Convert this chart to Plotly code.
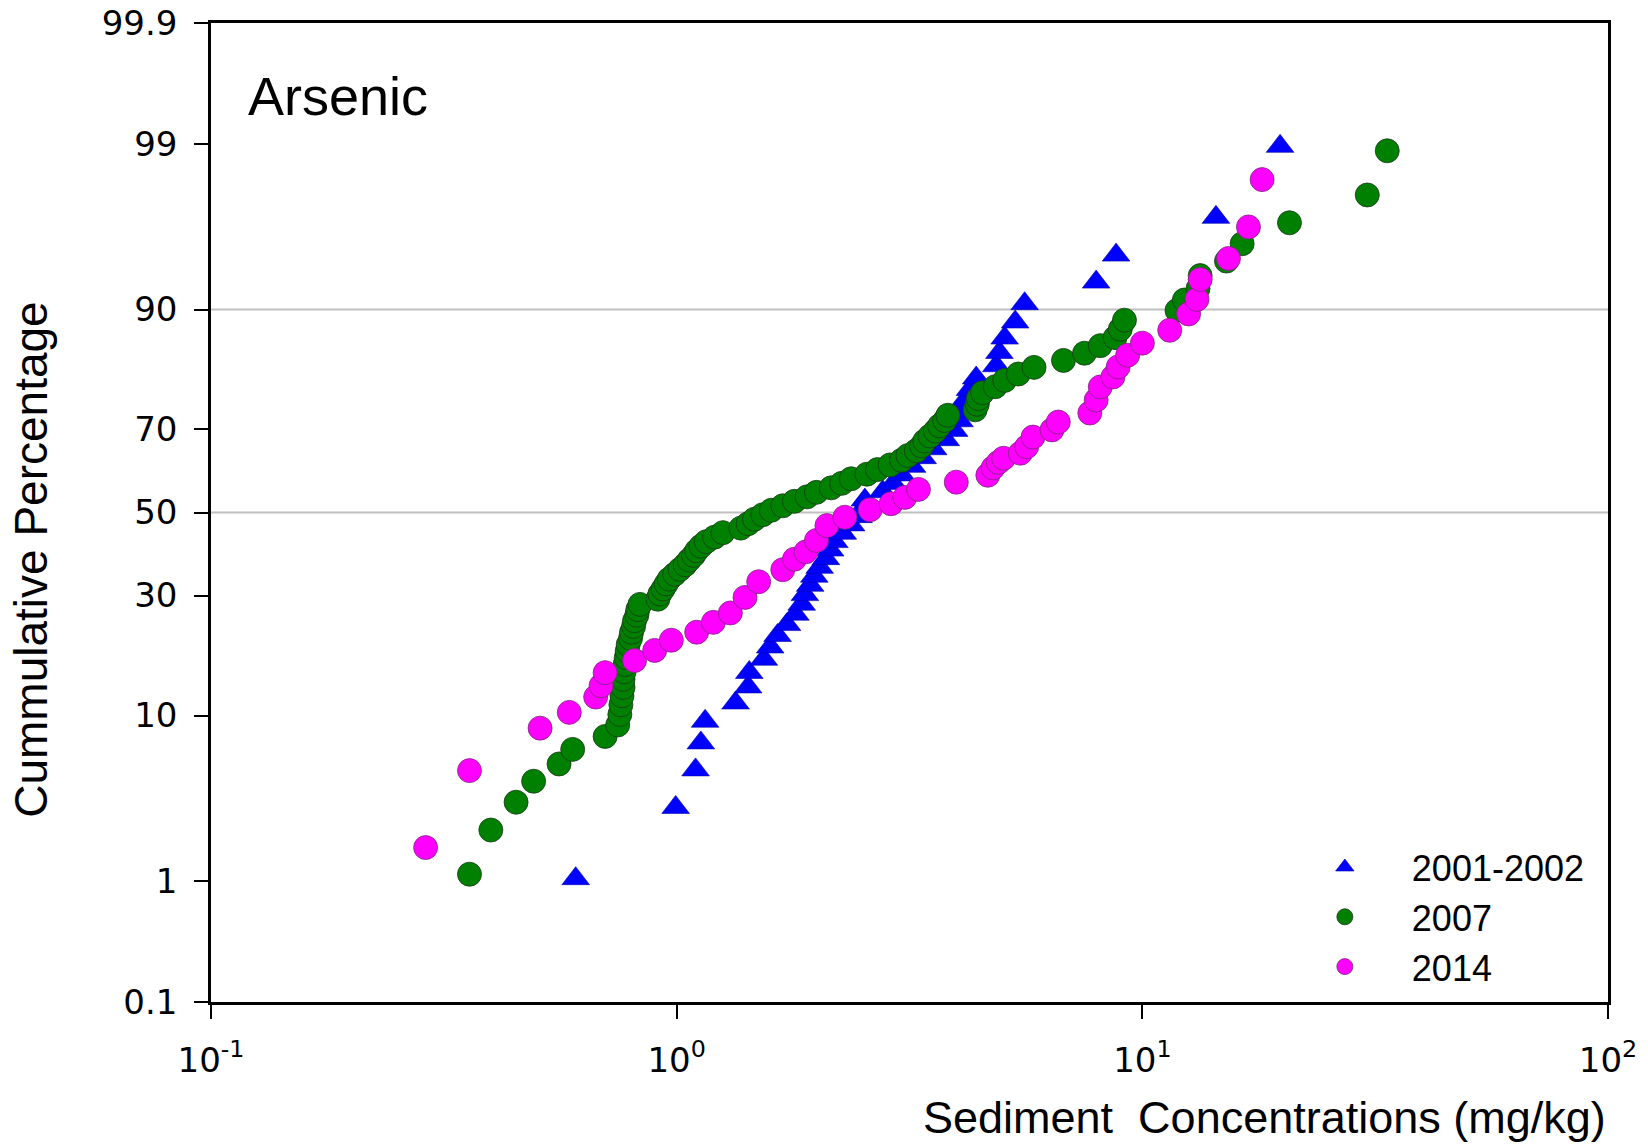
import plotly.graph_objects as go
from statistics import NormalDist

# ---------------- data (concentration mg/kg, cumulative percentage) ----------------
conc_2001 = [0.607, 0.995, 1.098, 1.127, 1.151, 1.338, 1.424, 1.432, 1.539, 1.588,
             1.647, 1.726, 1.799, 1.856, 1.885, 1.935, 1.975, 2.028, 2.092, 2.136,
             2.181, 2.274, 2.370, 2.458, 2.509, 2.536, 2.770, 2.917, 3.041, 3.203,
             3.375, 3.555, 3.784, 3.944, 4.049, 4.111, 4.154, 4.264, 4.398, 4.856,
             4.932, 5.062, 5.333, 5.588, 7.958, 8.783, 14.39, 19.76]
pct_2001 = [1.04, 3.13, 5.21, 7.29, 9.38, 11.46, 13.54, 15.63, 17.71, 19.79,
            21.88, 23.96, 26.04, 28.13, 30.21, 32.29, 34.38, 36.46, 38.54, 40.63,
            42.71, 44.79, 46.88, 48.96, 51.04, 53.13, 55.21, 57.29, 59.38, 61.46,
            63.54, 65.63, 67.71, 69.79, 71.88, 73.96, 76.04, 78.13, 80.21, 82.29,
            84.38, 86.46, 88.54, 90.63, 92.71, 94.79, 96.88, 98.96]

conc_2007 = [0.359, 0.399, 0.452, 0.493, 0.559, 0.598, 0.702, 0.747, 0.755, 0.759,
             0.763, 0.767, 0.767, 0.771, 0.775, 0.779, 0.783, 0.787, 0.796, 0.800,
             0.808, 0.812, 0.821, 0.825, 0.834, 0.911, 0.920, 0.935, 0.949, 0.964,
             0.990, 1.016, 1.043, 1.064, 1.087, 1.104, 1.127, 1.157, 1.206, 1.257,
             1.373, 1.424, 1.469, 1.531, 1.597, 1.690, 1.790, 1.905, 1.996, 2.147,
             2.262, 2.370, 2.562, 2.699, 2.872, 3.041, 3.137, 3.270, 3.357, 3.410,
             3.500, 3.593, 3.668, 3.764, 3.823, 4.376, 4.421, 4.444, 4.537, 4.831,
             5.062, 5.416, 5.854, 6.771, 7.513, 8.123, 8.737, 8.967, 9.154, 11.87,
             12.31, 13.17, 13.31, 15.16, 16.38, 20.70, 30.41, 33.57]
pct_2007 = [1.12, 2.25, 3.37, 4.49, 5.62, 6.74, 7.87, 8.99, 10.11, 11.24,
            12.36, 13.48, 14.61, 15.73, 16.85, 17.98, 19.10, 20.22, 21.35, 22.47,
            23.60, 24.72, 25.84, 26.97, 28.09, 29.21, 30.34, 31.46, 32.58, 33.71,
            34.83, 35.96, 37.08, 38.20, 39.33, 40.45, 41.57, 42.70, 43.82, 44.94,
            46.07, 47.19, 48.31, 49.44, 50.56, 51.69, 52.81, 53.93, 55.06, 56.18,
            57.30, 58.43, 59.55, 60.67, 61.80, 62.92, 64.04, 65.17, 66.29, 67.42,
            68.54, 69.66, 70.79, 71.91, 73.03, 74.16, 75.28, 76.40, 77.53, 78.65,
            79.78, 80.90, 82.02, 83.15, 84.27, 85.39, 86.52, 87.64, 88.76, 89.89,
            91.01, 92.13, 93.26, 94.38, 95.51, 96.63, 97.75, 98.88]

conc_2014 = [0.289, 0.359, 0.509, 0.588, 0.670, 0.688, 0.702, 0.812, 0.897, 0.974,
             1.104, 1.199, 1.304, 1.402, 1.500, 1.690, 1.790, 1.895, 1.996, 2.102,
             2.297, 2.603, 2.887, 3.090, 3.305, 3.985, 4.658, 4.781, 4.906, 5.035,
             5.472, 5.645, 5.824, 6.396, 6.598, 7.713, 7.958, 8.123, 8.646, 8.874,
             9.299, 10.0, 11.45, 12.57, 13.10, 13.31, 15.31, 16.90, 18.08]
pct_2014 = [1.72, 5.16, 8.67, 10.35, 12.2, 13.7, 15.6, 17.5, 19.2, 21.0,
            22.5, 24.4, 26.3, 29.6, 33.1, 35.9, 38.4, 40.2, 43.0, 46.7,
            48.8, 50.7, 52.2, 53.8, 55.8, 57.6, 59.3, 61.1, 62.4, 63.4,
            64.6, 66.1, 68.3, 69.9, 71.6, 73.5, 76.1, 78.6, 80.4, 82.1,
            83.96, 85.75, 87.5, 89.5, 91.07, 92.94, 94.56, 96.43, 98.22]

y_ticks = [0.1, 1, 10, 30, 50, 70, 90, 99, 99.9]
y_tick_labels = ["0.1", "1", "10", "30", "50", "70", "90", "99", "99.9"]
x_ticks = [0.1, 1, 10, 100]
x_tick_labels = ["10<sup>-1</sup>", "10<sup>0</sup>", "10<sup>1</sup>", "10<sup>2</sup>"]
grid_pcts = [50, 90]

nd = NormalDist()
def probit(p_list):
    return [nd.inv_cdf(p / 100.0) for p in p_list]

TXT = "Liberation Sans, Arial, sans-serif"
TICK = "DejaVu Sans, sans-serif"

fig = go.Figure()
fig.add_trace(go.Scatter(x=conc_2001, y=probit(pct_2001), mode="markers", name="2001-2002",
                         marker=dict(symbol="triangle-up", size=24, color="#0000FF",
                                     line=dict(width=0.6, color="#0000AA"))))
fig.add_trace(go.Scatter(x=conc_2007, y=probit(pct_2007), mode="markers", name="2007",
                         marker=dict(symbol="circle", size=24, color="#008000",
                                     line=dict(width=0.8, color="#1a3a1a"))))
fig.add_trace(go.Scatter(x=conc_2014, y=probit(pct_2014), mode="markers", name="2014",
                         marker=dict(symbol="circle", size=24, color="#FF00FF",
                                     line=dict(width=0.8, color="#7a2a7a"))))

zlim = nd.inv_cdf(0.999)
for g in probit(grid_pcts):
    fig.add_shape(type="line", xref="paper", yref="y", x0=0, x1=1, y0=g, y1=g,
                  line=dict(color="#C0C0C0", width=2), layer="below")

fig.update_xaxes(type="log", range=[-1, 2], tickvals=x_ticks, ticktext=x_tick_labels,
                 ticks="outside", ticklen=14, tickwidth=1.5, tickcolor="black",
                 showline=True, linecolor="black", linewidth=2.5, mirror=True,
                 showgrid=False, zeroline=False, ticklabelstandoff=12, automargin=False,
                 tickfont=dict(family=TICK, size=34, color="black"))
fig.update_yaxes(range=[-zlim, zlim], tickvals=probit(y_ticks), ticktext=y_tick_labels,
                 ticks="outside", ticklen=14, tickwidth=1.5, tickcolor="black",
                 showline=True, linecolor="black", linewidth=2.5, mirror=True,
                 showgrid=False, zeroline=False, ticklabelstandoff=10, automargin=False,
                 tickfont=dict(family=TICK, size=34, color="black"))

fig.add_annotation(text="Arsenic", xref="paper", yref="paper", x=0.025, y=0.925,
                   xanchor="left", yanchor="middle", showarrow=False,
                   font=dict(family=TXT, size=54, color="black"))
fig.add_annotation(text="Sediment  Concentrations (mg/kg)", xref="paper", yref="paper",
                   x=1.0, y=-0.1175, xanchor="right", yanchor="middle", showarrow=False,
                   font=dict(family=TXT, size=45, color="black"))
fig.add_annotation(text="Cummulative Percentage", xref="paper", yref="paper",
                   x=-0.129, y=0.4515, xanchor="center", yanchor="middle", textangle=-90,
                   showarrow=False, font=dict(family=TXT, size=46, color="black"))

fig.update_layout(
    width=1648, height=1145,
    margin=dict(l=211, r=40, t=23, b=143, autoexpand=False),
    paper_bgcolor="white", plot_bgcolor="white",
    showlegend=True,
    legend=dict(x=0.987, y=0.005, xanchor="right", yanchor="bottom",
                bgcolor="rgba(0,0,0,0)", itemwidth=124, tracegroupgap=0,
                font=dict(family=TXT, size=36, color="black")),
)

fig.write_html("out.html")
